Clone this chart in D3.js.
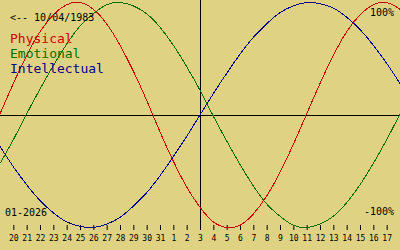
<!DOCTYPE html>
<html>
<head>
<meta charset="utf-8">
<script src="https://cdn.jsdelivr.net/npm/d3@7"></script>
<style>
  html, body { margin: 0; padding: 0; background: #e0d283; }
  svg { display: block; }
  text { font-family: "DejaVu Sans Mono", "Liberation Mono", monospace; }
</style>
</head>
<body>
<figure id="bio" style="margin:0"></figure>
<script>
// first day of the series (one day before the first tick)
const startDay = "2026-01-19";
const birthLabel = "<-- 10/04/1983";
const monthLabel = "01-2026";

// tick labels, Jan 20 .. Feb 17
const tickLabels = [20, 21, 22, 23, 24, 25, 26, 27, 28, 29, 30, 31,
  1, 2, 3, 4, 5, 6, 7, 8, 9, 10, 11, 12, 13, 14, 15, 16, 17];

// daily values in %, Jan 19 .. Feb 18
const physical = [1, 28, 53, 74, 89, 98, 100, 94, 81, 62, 39, 13, -15, -41, -64, -82,
  -95, -100, -98, -88, -72, -51, -26, 1, 28, 53, 74, 89, 98, 100, 94];
const emotional = [-43, -22, 1, 23, 44, 63, 79, 90, 98, 100, 97, 90, 78, 62, 43, 22,
  -1, -23, -44, -63, -79, -90, -98, -100, -97, -90, -78, -62, -43, -22, 1];
const intellectual = [-28, -46, -62, -76, -87, -95, -99, -100, -97, -91, -81, -69, -54, -37, -19, 0,
  19, 37, 54, 69, 81, 91, 97, 100, 99, 95, 87, 76, 62, 46, 28];

const seriesNames = ["Physical", "Emotional", "Intellectual"];
const seriesColors = ["#d00000", "#007000", "#000090"];

const width = 400;
const height = 250;

const svg = d3.select("figure#bio")
  .append("svg")
  .attr("width", width)
  .attr("height", height);

const parse = d3.timeParse("%Y-%m-%d");
const first = parse(startDay);
const days = physical.map((d, i) => d3.timeDay.offset(first, i));

const x = d3.scaleTime()
  .domain([first, d3.timeDay.offset(first, 30)])
  .range([0, width]);

const y = d3.scaleLinear()
  .domain([-100, 100])
  .range([227.5, 2.5]);

// zero line and today line
const y0 = Math.round(y(0)) + 0.5;
svg.append("line")
  .attr("x1", 0).attr("x2", width)
  .attr("y1", y0).attr("y2", y0)
  .attr("stroke", "#000");

const today = d3.timeDay.offset(first, 15);
svg.append("line")
  .attr("x1", Math.round(x(today)) + 0.5).attr("x2", Math.round(x(today)) + 0.5)
  .attr("y1", 0).attr("y2", 230)
  .attr("stroke", "#000");

// day axis
const tickDays = tickLabels.map((d, i) => d3.timeDay.offset(first, i + 1));
const axis = svg.append("g")
  .attr("transform", "translate(0,225)")
  .call(d3.axisBottom(x)
    .tickValues(tickDays)
    .tickFormat((d, i) => tickLabels[i])
    .tickSizeInner(5)
    .tickSizeOuter(0)
    .tickPadding(5));
axis.select(".domain").remove();
axis.selectAll("line").attr("stroke", "#000");
axis.selectAll("text")
  .attr("fill", "#000")
  .style("font-family", "DejaVu Sans Mono")
  .style("font-size", "8px");

// curves
const line = d3.line()
  .x((d, i) => x(days[i]))
  .y(d => y(d))
  .curve(d3.curveNatural);

[physical, emotional, intellectual].forEach((values, k) => {
  svg.append("path")
    .datum(values)
    .attr("fill", "none")
    .attr("stroke", seriesColors[k])
    .attr("stroke-width", 1)
    .attr("shape-rendering", "crispEdges")
    .attr("d", line);
});

// labels
svg.append("text")
  .attr("x", 10).attr("y", 21)
  .attr("font-size", 10)
  .attr("fill", "#000")
  .text(birthLabel);

seriesNames.forEach((name, k) => {
  svg.append("text")
    .attr("x", 10).attr("y", 43 + k * 15)
    .attr("font-size", 13)
    .attr("fill", seriesColors[k])
    .text(name);
});

svg.append("text")
  .attr("x", 394).attr("y", 16)
  .attr("text-anchor", "end")
  .attr("font-size", 10)
  .attr("fill", "#000")
  .text("100%");

svg.append("text")
  .attr("x", 394).attr("y", 215)
  .attr("text-anchor", "end")
  .attr("font-size", 10)
  .attr("fill", "#000")
  .text("-100%");

svg.append("text")
  .attr("x", 5).attr("y", 216)
  .attr("font-size", 10)
  .attr("fill", "#000")
  .text(monthLabel);
</script>
</body>
</html>
